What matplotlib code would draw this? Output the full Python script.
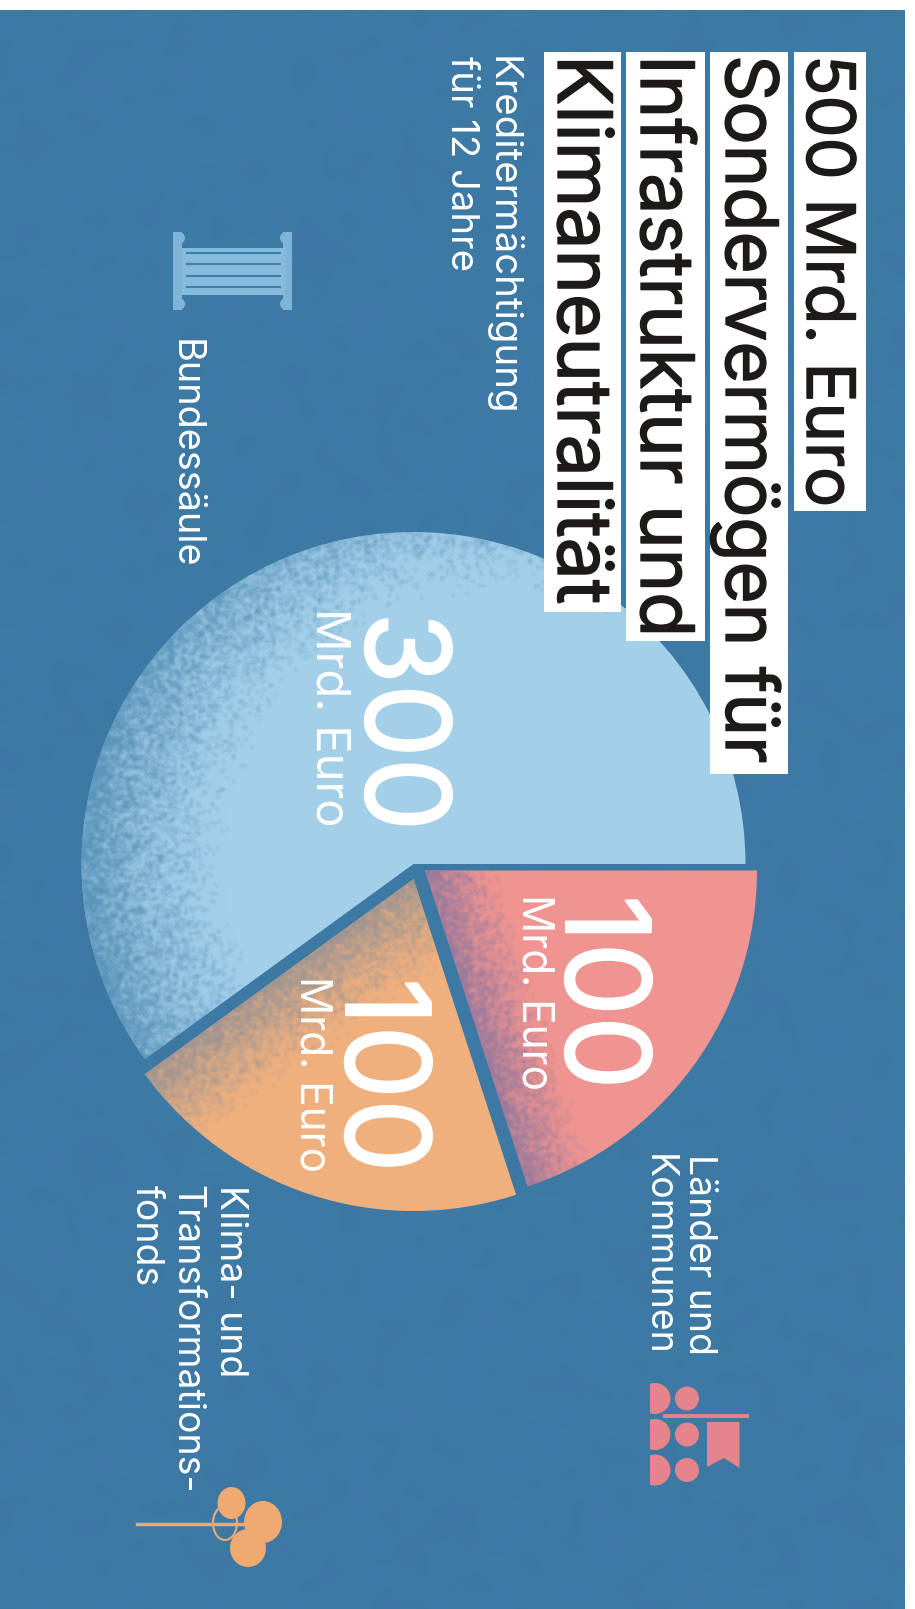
import numpy as np
import matplotlib
matplotlib.use('Agg')
import matplotlib.pyplot as plt
import matplotlib.patches as mpatches
import matplotlib.patheffects as pe

W = 915
H = 1609

# die daten
shares = [300, 100, 100]
share_unit = 'Mrd. Euro'
slice_names = ['Bundessäule', 'Klima- und\nTransformations-\nfonds', 'Länder und\nKommunen']
title_lines = ['500 Mrd. Euro', 'Sondervermögen für', 'Infrastruktur und', 'Klimaneutralität']
note = 'Kreditermächtigung\nfür 12 Jahre'

# farben
bg = '#3e7ba6'
slice_colors = ['#a3cfe9', '#f0b07e', '#ef9490']
icon_blue = '#7fb4d8'
icon_red = '#e5848a'
icon_orange = '#eeaa70'

plt.rcParams['font.family'] = ['Inter', 'DejaVu Sans']


def py(y):
    # y von oben gemessen
    return H - y


def grain(step, seed):
    # koerniges muster ohne zufallsgenerator
    xs = np.arange(0, W + step, step)
    ys = np.arange(0, H + step, step)
    xx, yy = np.meshgrid(xs, ys)
    n = np.sin(xx * 12.9898 + yy * 78.233 + seed) * 43758.5453
    return xx, yy, n - np.floor(n)


def blur(a):
    out = a.copy()
    for dx, dy in ((1, 0), (-1, 0), (0, 1), (0, -1)):
        out = out + np.roll(np.roll(a, dx, axis=1), dy, axis=0)
    return out / 5


def stipple(ax, wedge, prob, color, alpha, xx, yy, n, step):
    rgba = np.zeros(xx.shape + (4,))
    rgba[..., :3] = matplotlib.colors.to_rgb(color)
    rgba[..., 3] = blur(np.where(n < prob, alpha, 0.0)) * 0.75 + prob * alpha * 0.3
    im = ax.imshow(rgba, extent=(-step / 2, W + step / 2, py(H + step / 2), py(-step / 2)),
                   origin='upper', interpolation='bilinear', aspect='auto', zorder=3)
    im.set_clip_path(wedge)


def line_dist(xx, yy, p0, p1):
    dx = p1[0] - p0[0]
    dy = p1[1] - p0[1]
    return np.abs(dx * (yy - p0[1]) - dy * (xx - p0[0])) / np.hypot(dx, dy)


def down_text(ax, x, y, s, size, color='white', thick=0.0):
    # x ist die grundlinie, y der anfang der zeile
    t = ax.text(x, py(y), s, rotation=-90, rotation_mode='anchor', ha='left', va='baseline',
                fontsize=size, color=color, zorder=5)
    if thick > 0:
        t.set_path_effects([pe.withStroke(linewidth=thick, foreground=color)])
    return t


fig = plt.figure(figsize=(W / 100, H / 100), dpi=100, facecolor='white')
ax = fig.add_axes([0, 0, 1, 1])

ax.add_patch(mpatches.Rectangle((0, 0), 905, py(10), color=bg, lw=0, zorder=0))

# leichte flecken im hintergrund
step = 14
xx, yy, n = grain(step, 3.1)
rgba = np.zeros(xx.shape + (4,))
rgba[..., :3] = 0.15, 0.35, 0.5
rgba[..., 3] = n * 0.10
bgim = ax.imshow(rgba, extent=(0, W + step, py(H + step), py(0)), origin='upper',
                 interpolation='bicubic', aspect='auto', zorder=0.5)
bgim.set_clip_path(mpatches.Rectangle((0, 0), 905, py(10), transform=ax.transData))

# torte, jedes stueck hat seine eigene spitze
wedges, _ = ax.pie(shares, colors=slice_colors, startangle=0, counterclock=True,
                   radius=332, center=(415, py(870)), frame=True,
                   wedgeprops={'linewidth': 0, 'zorder': 2})
apex = [(413.5, 864), (413.5, 879), (425, 870.5)]
for w, a in zip(wedges, apex):
    w.set_center((a[0], py(a[1])))
    w.set_zorder(2)

step = 2.0
xx, yy, n = grain(step, 0.7)

# blau: rand links und oben
d = np.hypot(xx - 500, yy - 860)
p = np.clip((d - 265) / 155, 0, 1) ** 1.4 * 0.9
stipple(ax, wedges[0], p, bg, 0.7, xx, yy, n, step)

# orange: entlang der kante zu blau
d = line_dist(xx, yy, apex[1], (146, 1073.6))
p = np.clip(1 - d / 90, 0, 1) ** 1.2 * 0.9
stipple(ax, wedges[1], p, '#7f8a98', 0.7, xx, yy, n, step)

# rot: entlang der kante zu orange
d = line_dist(xx, yy, apex[2], (526, 1185))
p = np.clip(1 - d / 72, 0, 1) ** 1.2 * 0.9
stipple(ax, wedges[2], p, '#7a6fa0', 0.7, xx, yy, n, step)

# titel
title_box = [(794, 866, 52, 511), (710, 788, 52, 774), (626, 705, 52, 641), (544, 621, 52, 612)]
title_base = [807, 726, 641, 558]
title_size = [48, 52, 53, 54]
for line, b, bx, fs in zip(title_lines, title_box, title_base, title_size):
    ax.add_patch(mpatches.Rectangle((b[0], py(b[3])), b[1] - b[0], b[3] - b[2],
                                    color='white', lw=0, zorder=4))
    down_text(ax, bx, 55, line, fs, color='#1e1a1a', thick=1.0)

# beschriftungen
for x, s in zip((492, 451), note.split('\n')):
    down_text(ax, x, 56, s, 27.6)
down_text(ax, 174.5, 338.5, slice_names[0], 27.3)
for x, s in zip((219.5, 176.5, 135.5), slice_names[1].split('\n')):
    down_text(ax, x, 1185, s, 27)
for x, s in zip((689, 648), slice_names[2].split('\n')):
    down_text(ax, x, 1154, s, 27)

# werte in der torte
big_base = [366, 346, 566]
unit_base = [316, 300, 523]
start = [(612, 608), (978, 976), (895, 894)]
unit_size = [34, 30.5, 30.5]
for v, bb, ub, st, us in zip(shares, big_base, unit_base, start, unit_size):
    down_text(ax, bb, st[0], str(v), 84, thick=1.5)
    down_text(ax, ub, st[1], share_unit, us)

# icon bundessaeule
for x0 in (173, 283):
    ax.add_patch(mpatches.Rectangle((x0, py(310)), 9, 78, color=icon_blue, lw=0, zorder=4))
for x0, y0 in ((179, 238), (179, 304), (286, 238), (286, 304)):
    ax.add_patch(mpatches.Circle((x0, py(y0)), 6, color=icon_blue, lw=0, zorder=4))
ax.add_patch(mpatches.Rectangle((182, py(295)), 103, 47, color='#86bbdc', lw=0, zorder=4))
for y0 in (253, 264, 276, 287):
    ax.plot([187, 280], [py(y0), py(y0)], color='#3f7fab', lw=1.5, zorder=5)

# icon laender
for y0 in (1398.5, 1434.5, 1470):
    half = mpatches.Circle((655, py(y0)), 15.5, color=icon_red, lw=0, zorder=4)
    ax.add_patch(half)
    half.set_clip_path(mpatches.Rectangle((649.5, py(y0 + 16)), 30, 32, transform=ax.transData))
    ax.add_patch(mpatches.Circle((687, py(y0)), 12, color=icon_red, lw=0, zorder=4))
ax.plot([665, 747], [py(1416), py(1416)], color=icon_red, lw=2.8, zorder=4)
ax.add_patch(mpatches.Polygon([(707, py(1422)), (739.5, py(1422)), (739.5, py(1468)),
                               (724, py(1458)), (707, py(1467))], color=icon_red, lw=0, zorder=4))

# icon baum
ax.plot([137, 242], [py(1524), py(1524)], color=icon_orange, lw=2.5, zorder=4)
ax.add_patch(mpatches.Ellipse((225, py(1523)), 24, 34, fill=False, ec=icon_orange, lw=1.5, zorder=4))
ax.add_patch(mpatches.Ellipse((231.5, py(1503)), 28, 32, color=icon_orange, lw=0, zorder=5))
ax.add_patch(mpatches.Ellipse((263, py(1522)), 38, 42, color=icon_orange, lw=0, zorder=5))
ax.add_patch(mpatches.Ellipse((248, py(1548)), 36, 38, color=icon_orange, lw=0, zorder=5))

ax.set_xlim(0, W)
ax.set_ylim(0, H)
ax.set_aspect('auto')
ax.axis('off')

fig.savefig('out.png', dpi=100)
